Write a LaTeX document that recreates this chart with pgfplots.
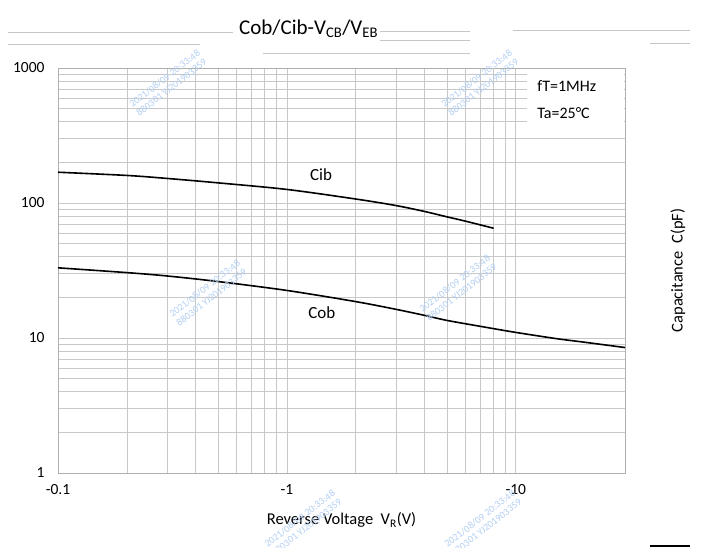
\documentclass[border=0pt]{standalone}
\usepackage{fontspec}
\setmainfont{Carlito}
\usepackage{pgfplots}
\pgfplotsset{compat=1.18}
\definecolor{gridgray}{RGB}{200,200,200}
\definecolor{boxgray}{RGB}{175,175,175}
\definecolor{wmblue}{RGB}{178,206,242}

\begin{document}
\begin{tikzpicture}[x=1pt,y=1pt]
% page = 704 x 548 px, axis south west corner at image (58,473)
\path[use as bounding box] (-58,-75) rectangle (646,473);

% scan artefacts at the top
\begin{scope}[gray!45, line width=0.8pt]
  \draw (-50,441) -- (175,441);
  \draw (-50,429) -- (142,429);
  \draw (205,420) -- (412,420);
  \draw (322,442) -- (412,442);
  \draw (322,433) -- (412,433);
  \draw (455,443) -- (632,443);
  \draw (592,430) -- (632,430);
\end{scope}
\draw[black, line width=1.2pt] (592,-73) -- (632,-73);

\begin{axis}[
    at={(0,0)}, anchor=south west,
    scale only axis,
    width=567pt, height=405pt,
    xmode=log, ymode=log,
    xmin=0.1, xmax=30,
    ymin=1, ymax=1000,
    xtick={0.1,1,10}, xticklabels={-0.1,-1,-10},
    ytick={1,10,100,1000}, yticklabels={1,10,100,1000},
    major tick length=0pt, minor tick length=0pt,
    grid=both,
    major grid style={gridgray, line width=0.7pt},
    minor grid style={gridgray, line width=0.7pt},
    axis line style={boxgray, line width=0.9pt},
    tick label style={font=\fontsize{15.5}{18}\selectfont},
    xticklabel style={yshift=-8pt},
    yticklabel style={xshift=-10pt},
    title={Cob/Cib-V\textsubscript{CB}/V\textsubscript{EB}},
    title style={at={(axis description cs:0.442,1)}, anchor=center, yshift=33pt,
                 font=\fontsize{21}{24}\selectfont},
    xlabel={Reverse Voltage\ \ V\textsubscript{R}(V)},
    xlabel style={at={(axis description cs:0.5,0)}, anchor=center, yshift=-47pt,
                  font=\fontsize{16.5}{19}\selectfont},
    ylabel={Capacitance\ \ C(pF)},
    ylabel style={at={(axis description cs:1.0935,0.5)}, anchor=center,
                  font=\fontsize{16.5}{19}\selectfont},
    clip=false,
]
% white box behind the conditions
\fill[white] (axis cs:11.2,950) rectangle (axis cs:29.6,320);

\addplot[black, line width=1.6pt, smooth] coordinates {
  (0.1,169) (0.2,160) (0.3,152) (0.5,141) (1,126) (2,107) (3,95.7) (4,86.5) (5,79) (6,73.5) (8,65)
};
\addplot[black, line width=1.6pt, smooth] coordinates {
  (0.1,33.1) (0.2,30.5) (0.3,28.8) (0.5,26.2) (1,22.5) (2,18.6) (3,16.3) (4,14.7) (5,13.5)
  (7,12.2) (10,11.0) (15,9.9) (20,9.3) (30,8.5)
};

\node[font=\fontsize{17}{20}\selectfont] at (axis cs:1.41,162) {Cib};
\node[font=\fontsize{17}{20}\selectfont] at (axis cs:1.42,15.5) {Cob};
\node[anchor=west, inner sep=0pt, font=\fontsize{16}{19}\selectfont] at (axis cs:12.4,738) {fT=1MHz};
\node[anchor=west, inner sep=0pt, font=\fontsize{16}{19}\selectfont] at (axis cs:12.4,466) {Ta=25\textdegree C};
\end{axis}

% faint watermarks
\begin{scope}[wmblue, font=\fontsize{10}{11}\selectfont, align=center]
  \node[rotate=38] at (110,390) {2021/08/09 20:33:48\\880301 YJ201903359};
  \node[rotate=38] at (422,390) {2021/08/09 20:33:48\\880301 YJ201903359};
  \node[rotate=38] at (150,180) {2021/08/09 20:33:48\\880301 YJ201903359};
  \node[rotate=38] at (400,185) {2021/08/09 20:33:48\\880301 YJ201903359};
  \node[rotate=38] at (245,-50) {2021/08/09 20:33:48\\880301 YJ201903359};
  \node[rotate=38] at (425,-50) {2021/08/09 20:33:48\\880301 YJ201903359};
\end{scope}
\end{tikzpicture}
\end{document}
